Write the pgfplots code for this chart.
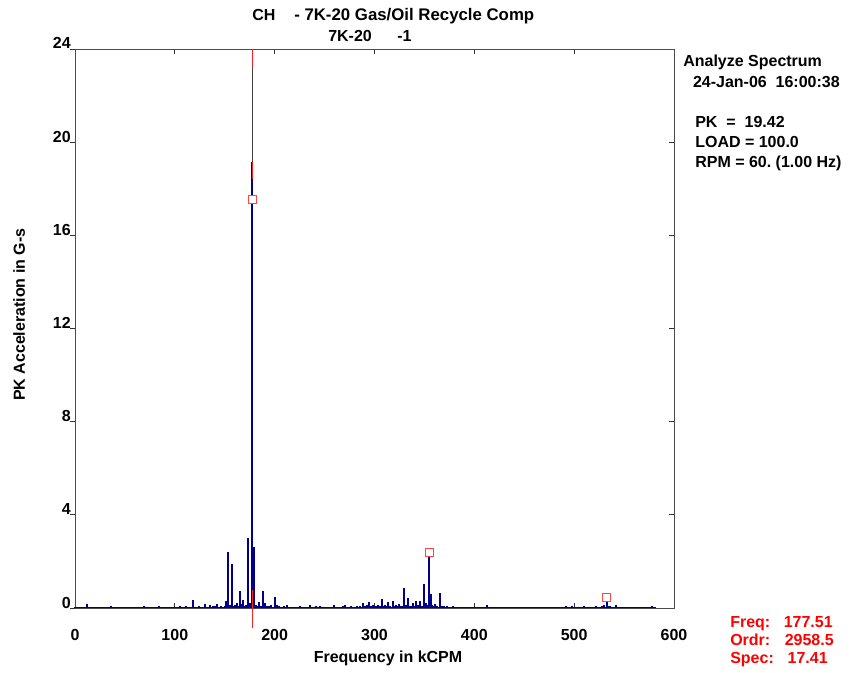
\documentclass[border=0pt]{standalone}
\usepackage{fontspec}
\setmainfont{Liberation Sans}
\usepackage{pgfplots}
\pgfplotsset{compat=1.18}
\usepackage{pgfplotstable}

\definecolor{specblue}{RGB}{0,0,140}
\definecolor{curred}{RGB}{255,30,30}
\definecolor{mkred}{RGB}{255,70,70}
\newcommand{\lbl}{\fontsize{12}{14}\selectfont\bfseries}

% spectrum lines: frequency (kCPM), PK acceleration (G-s)
\pgfplotstableread{
x y
0.5 0.04
3 0.03
5 0.06
8 0.03
12 0.19
15 0.04
18 0.03
21 0.05
24 0.04
27 0.06
30 0.03
33 0.05
36 0.07
39 0.04
42 0.05
45 0.03
48 0.06
51 0.04
54 0.05
57 0.03
60 0.06
63 0.04
66 0.05
69 0.07
72 0.04
75 0.05
78 0.06
81 0.04
84 0.07
87 0.05
90 0.04
93 0.06
96 0.05
99 0.04
102 0.06
105 0.08
108 0.05
111 0.07
114 0.05
116 0.06
118.5 0.35
121 0.06
124 0.08
127 0.05
130 0.18
132 0.06
135 0.12
138 0.07
140 0.09
142 0.17
144 0.06
146 0.08
148 0.05
150 0.10
151.6 0.30
153 2.40
155 0.15
157 1.90
159 0.10
160.5 0.12
162.3 0.22
164 0.10
165 0.75
166.5 0.18
168 0.35
170 0.10
171.5 0.12
173 3.00
175 0.22
177.51 19.14
179 2.62
181 0.12
182.5 0.10
184.3 0.27
186 0.10
188.6 0.75
190 0.22
192 0.08
194 0.10
196 0.12
198 0.06
200.3 0.47
202 0.15
204 0.08
207 0.06
209 0.08
212 0.14
215 0.05
218 0.06
221 0.05
225 0.07
228 0.05
232 0.06
235.6 0.13
238 0.05
241 0.07
245 0.08
248 0.05
252 0.06
255 0.05
259 0.15
262 0.06
265 0.05
268 0.07
270 0.12
273 0.06
276 0.08
279 0.05
282 0.09
285 0.07
288 0.20
290 0.08
292 0.12
294.5 0.26
296 0.10
298 0.15
300 0.10
302 0.08
304 0.15
306 0.07
307.7 0.40
309.5 0.10
311 0.12
312.5 0.08
314 0.25
316 0.10
318.5 0.30
320 0.08
321.5 0.12
323 0.08
324.5 0.18
326 0.07
327.5 0.10
329.9 0.84
331.2 0.15
332.5 0.08
333.9 0.45
335.5 0.10
337 0.08
338.5 0.20
340 0.07
341.9 0.30
343.5 0.12
345.9 0.30
347.5 0.10
349.9 1.03
351.5 0.20
353 0.12
355.02 2.38
356.3 0.60
358 0.15
359.5 0.10
361 0.18
363 0.08
365.9 0.63
367.5 0.10
370 0.07
373 0.08
376 0.05
379 0.07
382 0.05
385 0.06
388 0.04
392 0.06
395 0.05
398 0.04
401 0.06
405 0.05
409 0.06
412.6 0.15
415 0.05
418 0.04
422 0.06
425 0.05
428 0.04
432 0.06
436 0.05
440 0.06
444 0.04
447 0.05
451 0.06
455 0.05
459 0.04
462 0.06
466 0.05
470 0.06
474 0.04
478 0.05
481 0.06
485 0.05
489 0.06
492 0.07
495 0.05
498 0.10
501 0.05
504 0.06
507 0.05
510 0.07
513 0.05
516 0.06
519 0.05
522 0.07
525 0.06
528 0.08
530 0.12
532.53 0.30
534 0.10
536 0.07
539 0.05
541.7 0.12
544 0.06
547 0.05
550 0.06
553 0.05
556 0.04
560 0.06
563 0.05
567 0.04
570 0.05
574 0.04
578 0.09
581 0.04
}\spectrum

\begin{document}
\begin{tikzpicture}
\path[use as bounding box] (-56.25pt,-48pt) rectangle (582.75pt,456pt);

\begin{axis}[
  at={(0,0)}, anchor=south west,
  scale only axis, width=449.25pt, height=419.25pt,
  xmin=0, xmax=600, ymin=0, ymax=24,
  xtick={0,100,...,600}, ytick={0,4,...,24},
  tick align=inside, xtick pos=both, ytick pos=right, yticklabel pos=left,
  major tick length=4pt,
  tick style={black!80, line width=0.6pt},
  axis line style={black!70, line width=0.7pt},
  ticklabel style={font=\lbl},
  /pgf/number format/assume math mode=true,
  xticklabel style={anchor=base, yshift=-24pt},
  yticklabel style={anchor=base east, inner sep=0pt, xshift=-3pt},
  clip=false,
]
  \addplot[specblue, line width=1pt] coordinates {(0,0.03)(582,0.03)};
  \addplot[ycomb, specblue, line width=1.5pt] table[x=x,y=y] {\spectrum};
  % cursor at 1x running speed order
  \addplot[black!75, line width=0.5pt] coordinates {(177.51,23.2)(177.51,19.14)};
  \addplot[curred, line width=0.8pt] coordinates {(177.51,24)(177.51,23.2)};
  \addplot[curred, line width=0.8pt] coordinates {(177.51,19.14)(177.51,18.4)};
  \addplot[curred, line width=0.8pt] coordinates {(177.51,0.77)(177.51,-0.86)};
  % harmonic markers
  \addplot[only marks, mark=square*, mark size=3pt,
    mark options={fill=white, draw=mkred, line width=0.8pt}]
    coordinates {(177.51,17.55)(355.02,2.38)(532.53,0.47)};
\end{axis}

% outward ticks on the left side
\begin{axis}[
  at={(0,0)}, anchor=south west,
  scale only axis, width=449.25pt, height=419.25pt,
  xmin=0, xmax=600, ymin=0, ymax=24,
  axis line style={draw=none},
  xtick=\empty, ytick={0,4,...,24}, yticklabels={},
  ytick pos=left, tick align=outside, major tick length=4pt,
  tick style={black!80, line width=0.6pt},
]
\end{axis}

\begin{scope}[every node/.style={inner sep=0pt, font=\lbl}]
  % title
  \node[anchor=base west] at (132.75pt,440.25pt) {CH};
  \node[anchor=base west, font=\fontsize{12.6}{14}\selectfont\bfseries] at (164.25pt,440.25pt) {- 7K-20 Gas/Oil Recycle Comp};
  \node[anchor=base west] at (189.75pt,424.5pt) {7K-20};
  \node[anchor=base west] at (241.5pt,424.5pt) {-1};
  % axis labels
  \node[anchor=base] at (234.75pt,-40.5pt) {Frequency in kCPM};
  \node[anchor=base, rotate=90] at (-37.5pt,220pt) {PK Acceleration in G-s};
  % info block
  \node[anchor=base west] at (456pt,406pt) {Analyze Spectrum};
  \node[anchor=base west] at (463.3pt,390.5pt) {24-Jan-06\ \ 16:00:38};
  \node[anchor=base west] at (465pt,360.5pt) {PK\ \ =\ \ 19.42};
  \node[anchor=base west] at (465pt,345.5pt) {LOAD = 100.0};
  \node[anchor=base west] at (465pt,330.5pt) {RPM = 60.\ (1.00 Hz)};
  % cursor readout
  \node[anchor=base west, text=red] at (491.25pt,-14.5pt) {Freq:};
  \node[anchor=base east, text=red] at (568.5pt,-14.5pt) {177.51};
  \node[anchor=base west, text=red] at (491.25pt,-28.3pt) {Ordr:};
  \node[anchor=base east, text=red] at (569.25pt,-28.3pt) {2958.5};
  \node[anchor=base west, text=red] at (491.25pt,-41.5pt) {Spec:};
  \node[anchor=base east, text=red] at (564.75pt,-41.5pt) {17.41};
\end{scope}
\end{tikzpicture}
\end{document}
